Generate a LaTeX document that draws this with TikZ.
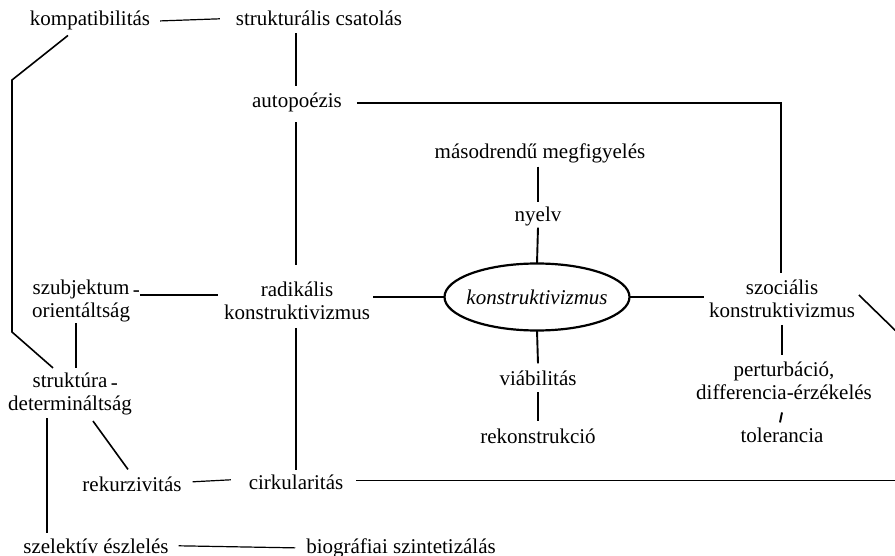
\documentclass[tikz,border=0pt]{standalone}
\usepackage{fontspec}
\setmainfont{Liberation Serif}
\usetikzlibrary{shapes.geometric,calc}
\begin{document}
\begin{tikzpicture}[x=1pt,y=-1pt,
  every node/.style={inner sep=0pt, outer sep=0pt, font=\fontsize{21}{23}\selectfont},
  lbl/.style={anchor=base},
  two/.style={align=center},
  hl/.style={line width=1.2pt},
  vl/.style={line width=1.9pt},
  dl/.style={line width=1.6pt}]
\useasboundingbox (0,0) rectangle (895,556);
% nodes
\node[lbl] (kompat) at (90,26) {kompatibilitás};
\node[lbl] (struk) at (319,26) {strukturális csatolás};
\node[lbl] (auto) at (297,108) {autopoézis};
\node[lbl] (masod) at (540,159) {másodrendű megfigyelés};
\node[lbl] (nyelv) at (538,222) {nyelv};
\node[draw, ellipse, line width=2.2pt, minimum width=185pt, minimum height=67pt,
      label={center:{\fontsize{21}{23}\selectfont\itshape konstruktivizmus}}] (ell) at (537,297) {};
\node[lbl] (viab) at (538,385) {viábilitás};
\node[lbl] (rekon) at (538,443) {rekonstrukció};
\node[two] (radik) at (297,301) {radikális\\konstruktivizmus};
\node[two] (szubj) at (81,301) {szubjektum\rlap{\,\raisebox{-1.5pt}{-}}\\orientáltság};
\node[two] (strukt) at (70,394) {struktúra\rlap{\,\raisebox{-1.5pt}{-}}\\determináltság};
\node[two] (szoc) at (782,299) {szociális\\konstruktivizmus};
\node[two] (pert) at (784,381) {perturbáció,\\differencia-érzékelés};
\node[lbl] (toler) at (782,442) {tolerancia};
\node[lbl] (rekurz) at (132,491) {rekurzivitás};
\node[lbl] (cirk) at (296,489) {cirkularitás};
\node[lbl] (szel) at (96,553) {szelektív észlelés};
\node[lbl] (bio) at (401,553) {biográfiai szintetizálás};
\coordinate (bendA) at (12,80);
\coordinate (bendB) at (12,332);
\coordinate (rightedge) at (900,0);
\coordinate (szocend) at (900,335);
% connectors
\draw[hl] ($(kompat.east)+(10,0)$) -- ($(struk.west)+(-16,0)$);
\draw[vl] ($(struk.south -| auto.north)+(-1,7)$) -- ($(auto.north)+(-1,-7)$);
\draw[hl] ($(auto.east)+(15,0)$) -| ($(szoc.north)+(-1,-7)$);
\draw[vl] ($(auto.south)+(-1,10)$) -- ($(radik.north)+(-1,-17)$);
\draw[vl] ($(masod.south -| nyelv.north)+(0,3)$) -- ($(nyelv.north)+(0,-5)$);
\draw[vl] ($(nyelv.south)+(0,1)$) -- (ell.north);
\draw[vl] (ell.south) -- ($(viab.north)+(0,-7)$);
\draw[vl] ($(viab.south)+(0,7)$) -- ($(rekon.north)+(0,-7)$);
\draw[hl] (ell.west) -- ($(ell.west -| radik.east)+(3,0)$);
\draw[hl] (ell.east) -- ($(ell.east -| szoc.west)+(-5,0)$);
\draw[hl] ($(szubj.east)+(10,-6)$) -- ($(radik.west)+(-6,-6)$);
\draw[vl] ($(szubj.south)+(-5,1)$) -- ($(strukt.north)+(6,-5)$);
\draw[vl] ($(strukt.south)+(-23,3)$) -- ($(szel.north)+(-49,-5)$);
\draw[dl] ($(strukt.south)+(23,6)$) -- ($(rekurz.north)+(-4,-7)$);
\draw[hl] ($(rekurz.east)+(11,-2)$) -- ($(cirk.west)+(-18,-2)$);
\draw[vl] ($(radik.south)+(-1,8)$) -- ($(cirk.north)+(0,-4)$);
\draw[hl] ($(cirk.east)+(13,-1)$) -- ($(cirk.east -| rightedge)+(0,-1)$);
\draw[dl] ($(szoc.east)+(4,-4)$) -- (szocend);
\draw[vl] ($(szoc.south)+(0,7)$) -- ($(szoc.south |- pert.north)+(0,-7)$);
\draw[vl] ($(toler.north)+(0,-15)$) -- ($(toler.north)+(-2,-5)$);
\draw[dl] ($(kompat.south)+(-22,5)$) -- (bendA) -- (bendB) -- ($(strukt.north)+(-17,-5)$);
\draw[hl] ($(szel.east)+(10,0)$) -- ($(bio.west)+(-11,0)$);
\end{tikzpicture}
\end{document}
